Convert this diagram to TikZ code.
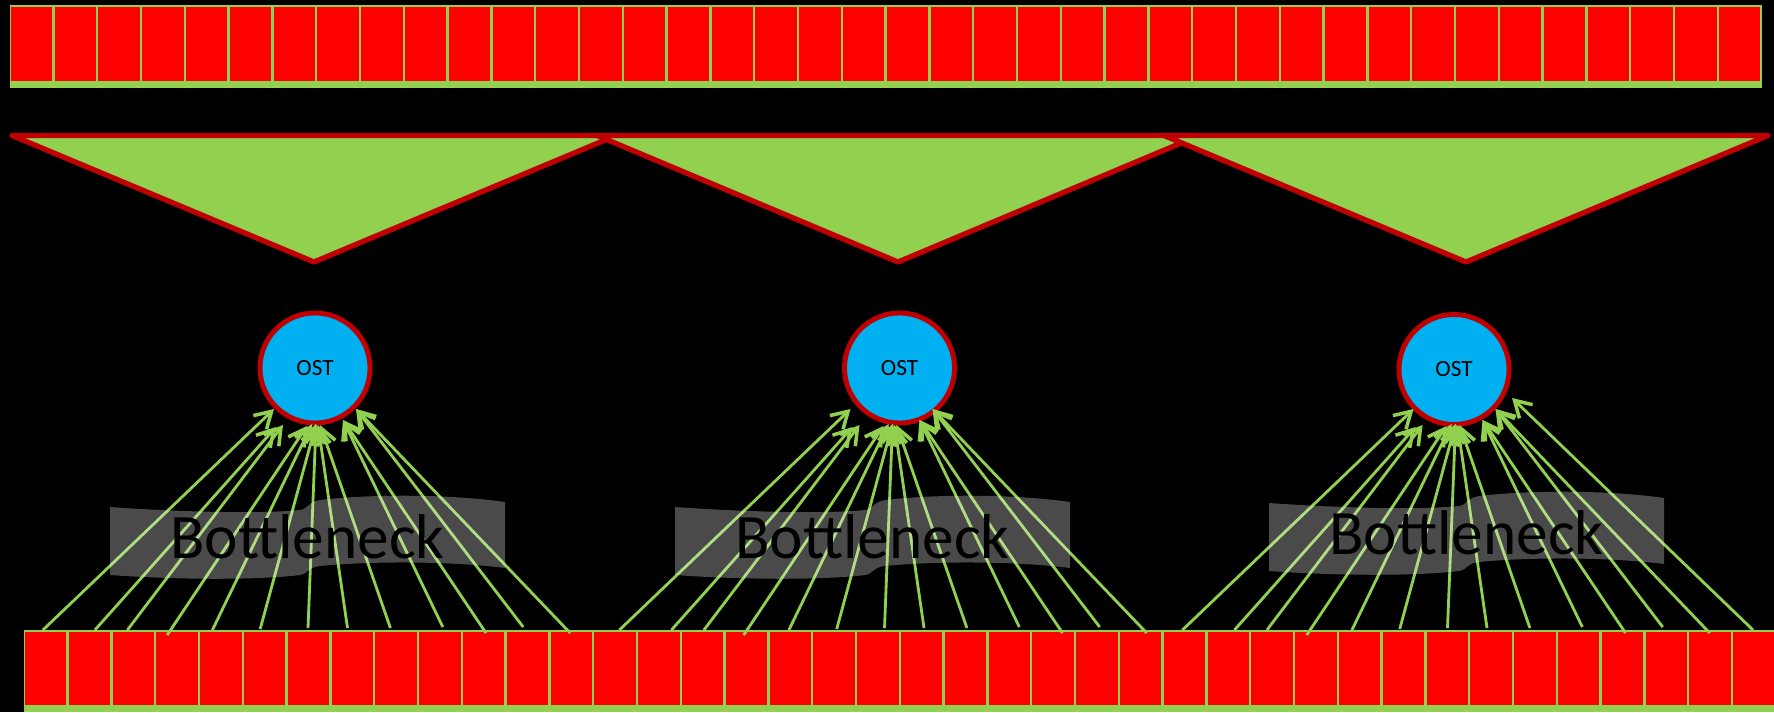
\documentclass[tikz,border=0pt]{standalone}
\usepackage{fontspec}
\setmainfont{Carlito}
\usetikzlibrary{arrows.meta}
\definecolor{cellred}{HTML}{FF0000}
\definecolor{leaf}{HTML}{92D050}
\definecolor{rim}{HTML}{C00000}
\definecolor{sky}{HTML}{00B0F0}
\tikzset{
  ost/.style={circle,draw=rim,fill=sky,line width=1.4pt,minimum size=1.1cm,inner sep=0pt,
    font=\fontsize{6.6pt}{7pt}\selectfont},
  flow/.style={leaf,line width=0.8pt,-{Straight Barb[length=1.6mm,width=1.9mm,line width=1pt]}},
  tri/.style={fill=leaf,draw=rim,line width=1.5pt,line join=round},
  banner/.style={fill=white,fill opacity=0.29},
  necktext/.style={anchor=base,inner sep=0pt,font=\fontsize{18pt}{20pt}\selectfont}
}
\begin{document}
\begin{tikzpicture}[x=0.01cm,y=-0.01cm]
            \useasboundingbox (0,0) rectangle (1774,712);
            \fill[black] (0,0) rectangle (1774,712);

            % source stripe and target stripe
            \fill[leaf] (9.6,5.3) rectangle (1761.8,88);
            \foreach \i in {0,...,39}
                \fill[cellred] ({9.6+43.8*\i+1.2},7.3) rectangle ({9.6+43.8*(\i+1)-1.2},81);
            \fill[leaf] (23.7,630) rectangle (1775.7,712);
            \foreach \i in {0,...,39}
                \fill[cellred] ({23.7+43.8*\i+1.2},632) rectangle ({23.7+43.8*(\i+1)-1.2},705);

            \filldraw[tri] (12,135.5) -- (616,135.5) -- (314,262) -- cycle;
            \filldraw[tri] (597,135.5) -- (1199,135.5) -- (898,262) -- cycle;
            \filldraw[tri] (1164,135.5) -- (1768,135.5) -- (1466,262) -- cycle;

            \node[ost] (ost1) at (315,368) {OST};
            \node[ost] (ost2) at (899.5,368) {OST};
            \node[ost] (ost3) at (1454,369.5) {OST};

            % fan of writers into each OST
            \foreach \g/\s in {1/0,2/576.5,3/1139.5}{
                \foreach \k/\bx/\by/\hx/\hy in {1/42.9/630/274/409, 2/94.9/630/276/427,
                        3/127.4/630/283/425, 4/167.2/635/307/426, 5/212.4/630/312/424,
                        6/260.2/629/316/424, 7/308/628/316/424, 8/347.5/628/318/425,
                        9/390.4/628/320/425, 10/442.8/627/343/420, 11/486/633/343/420,
                        12/523.2/627/356/409, 13/570.2/633/356/409}{
                    \coordinate (b\g-\k) at ({\bx+\s},\by);
                    \coordinate (h\g-\k) at ({\hx+\s},\hy);
                    \draw[flow] (b\g-\k) -- (h\g-\k);
                }
            }
            \coordinate (b3-14) at (1753,630);
            \coordinate (h3-14) at (1512,398);
            \draw[flow] (b3-14) -- (h3-14);

            % bottleneck banners
            \foreach \g/\x/\y in {1/110/0,2/675/0,3/1269/-4}{
                \fill[banner,shift={(\x,\y)}] (0,507) .. controls (70,512) and (150,514) .. (190,510)
                    .. controls (198,509) and (198,502) .. (210,500)
                    .. controls (260,494) and (340,494) .. (395,502) -- (395,568)
                    .. controls (340,561) and (260,561) .. (210,566)
                    .. controls (198,567) and (198,574) .. (190,575)
                    .. controls (150,580) and (70,580) .. (0,575) -- cycle;
                \node[necktext] (neck\g) at ({\x+197.5},{558+\y}) {Bottleneck};
            }
        \end{tikzpicture}
\end{document}
